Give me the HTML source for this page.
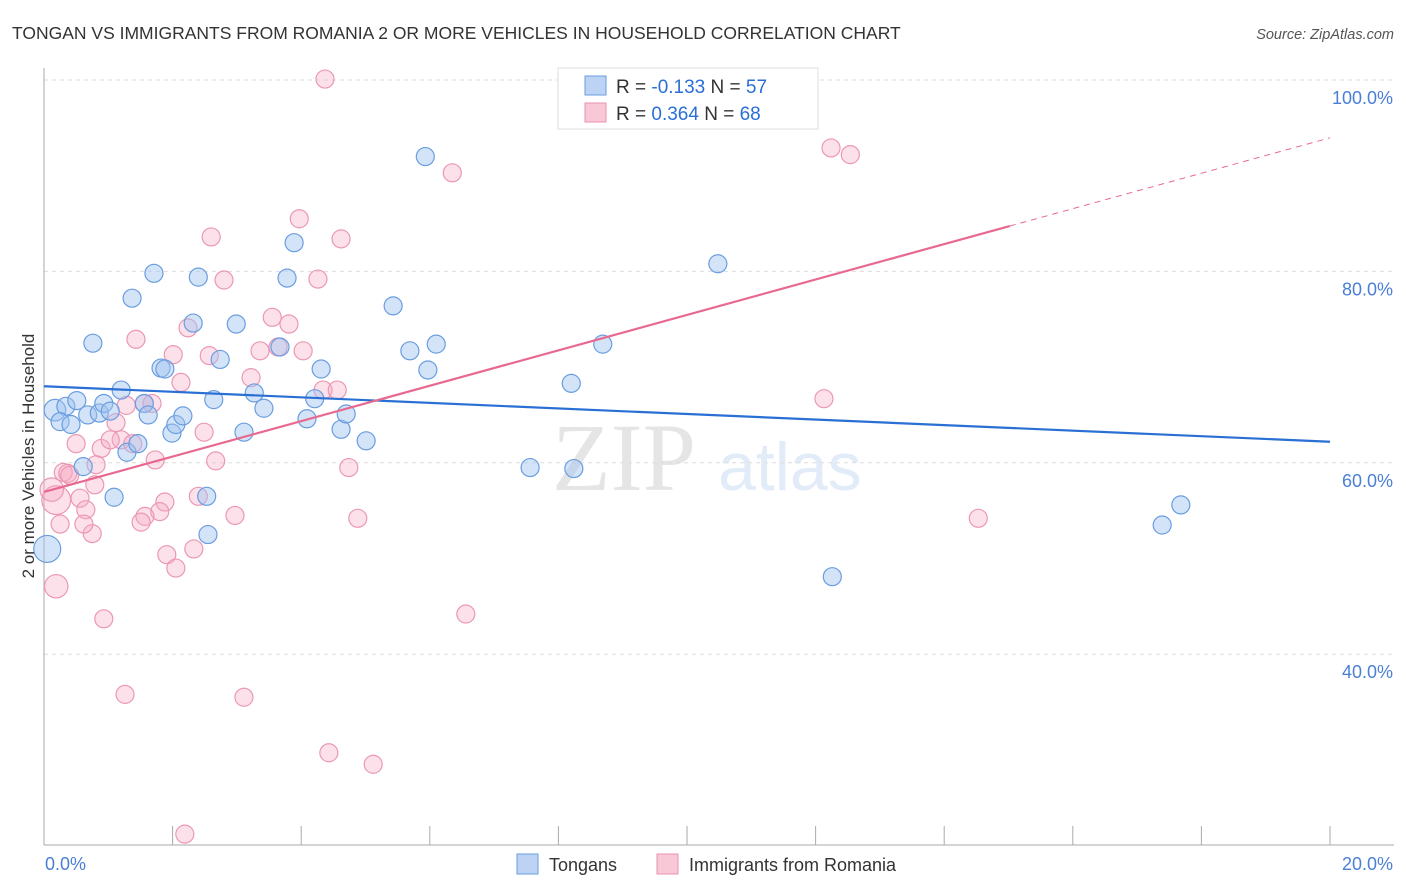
<!DOCTYPE html>
<html><head><meta charset="utf-8"><style>
body{margin:0;background:#fff;font-family:"Liberation Sans",sans-serif}
svg{display:block}
</style></head><body>
<svg id="c" width="1406" height="892" xmlns="http://www.w3.org/2000/svg">
<text x="12" y="39" font-size="17.5" fill="#333">TONGAN VS IMMIGRANTS FROM ROMANIA 2 OR MORE VEHICLES IN HOUSEHOLD CORRELATION CHART</text>
<text x="1394" y="39" font-size="14.5" fill="#555" font-style="italic" text-anchor="end">Source: ZipAtlas.com</text>
<g opacity="0.25">
<text x="552" y="490" font-size="96" font-family="Liberation Serif" fill="#999">ZIP</text>
<text x="718" y="490" font-size="68" fill="#8fb3e6">atlas</text>
</g>
<g id="grid"></g>
<g id="axes"></g>
<g id="pts"></g>
<g id="lines"></g>
<text transform="translate(34,456) rotate(-90)" font-size="17" fill="#333" text-anchor="middle">2 or more Vehicles in Household</text>
<g>
<rect x="558" y="68" width="260" height="61" fill="#fff" stroke="#ddd"/>
<rect x="585" y="76" width="21" height="19" fill="#bcd3f3" stroke="#6a9de0"/>
<rect x="585" y="103" width="21" height="19" fill="#f9c8d6" stroke="#e890ae"/>
<text x="616" y="93" font-size="19" fill="#333">R = <tspan fill="#2a6fd4">-0.133</tspan>   N = <tspan fill="#2a6fd4">57</tspan></text>
<text x="616" y="120" font-size="19" fill="#333">R =  <tspan fill="#2a6fd4">0.364</tspan>   N = <tspan fill="#2a6fd4">68</tspan></text>
</g>
<g>
<rect x="517" y="854" width="21" height="20" fill="#bcd3f3" stroke="#6a9de0"/>
<text x="549" y="871" font-size="18" fill="#333">Tongans</text>
<rect x="657" y="854" width="21" height="20" fill="#f9c8d6" stroke="#e890ae"/>
<text x="689" y="871" font-size="18" fill="#333">Immigrants from Romania</text>
</g>
</svg>
<script>
const yTicks=[40,60,80,100];
const xTickLabels=["0.0%","20.0%"];
const tonganX=[0.17,0.34,0.51,0.25,0.42,0.68,0.86,0.93,1.03,1.20,0.76,1.37,1.71,1.82,1.88,1.56,1.62,1.99,2.05,2.16,2.40,2.32,2.64,2.74,2.99,3.11,3.27,3.42,3.67,3.78,3.89,4.09,4.21,4.31,4.62,4.70,5.01,5.43,5.69,5.93,5.97,6.10,7.56,8.20,8.24,8.69,10.48,12.26,17.39,17.68,0.61,1.09,1.29,1.46,2.53,2.55,0.05];
const tonganY=[65.5,65.9,66.5,64.3,64.0,65.0,65.2,66.2,65.4,67.6,72.5,77.2,79.8,69.9,69.8,66.2,65.0,63.1,64.0,64.9,79.4,74.6,66.6,70.8,74.5,63.2,67.3,65.7,72.1,79.3,83.0,64.6,66.7,69.8,63.5,65.1,62.3,76.4,71.7,92.0,69.7,72.4,59.5,68.3,59.4,72.4,80.8,48.1,53.5,55.6,59.6,56.4,61.1,62.0,56.5,52.5,51.0];
const tonganW=[1.2,1,1,1,1,1,1,1,1,1,1,1,1,1,1,1,1,1,1,1,1,1,1,1,1,1,1,1,1,1,1,1,1,1,1,1,1,1,1,1,1,1,1,1,1,1,1,1,1,1,1,1,1,1,1,1,1.5];
const romX=[4.37,9.10,12.24,12.54,6.35,2.60,3.97,4.62,2.80,4.26,1.43,2.24,2.01,2.57,3.55,3.81,3.64,3.36,4.03,2.13,3.22,4.34,4.56,1.56,1.68,1.28,1.12,1.20,0.89,0.50,1.03,1.38,1.73,2.49,2.67,0.30,0.37,0.40,0.81,4.74,12.13,0.56,0.65,0.79,1.88,1.80,1.57,1.51,2.97,4.88,14.53,0.75,0.25,0.62,1.91,2.33,2.05,0.19,0.12,0.19,0.93,6.56,1.26,3.11,4.43,5.12,2.19,2.40];
const romY=[100.1,100.0,92.9,92.2,90.3,83.6,85.5,83.4,79.1,79.2,72.9,74.1,71.3,71.2,75.2,74.5,72.1,71.7,71.7,68.4,68.9,67.6,67.6,66.2,66.2,66.0,64.2,62.4,61.5,62.0,62.4,62.0,60.3,63.2,60.2,59.0,58.9,58.7,59.8,59.5,66.7,56.3,55.1,57.7,55.9,54.9,54.4,53.8,54.5,54.2,54.2,52.6,53.6,53.6,50.4,51.0,49.0,56.1,57.2,47.1,43.7,44.2,35.8,35.5,29.7,28.5,21.2,56.5];
const romW=[1,1,1,1,1,1,1,1,1,1,1,1,1,1,1,1,1,1,1,1,1,1,1,1,1,1,1,1,1,1,1,1,1,1,1,1,1,1,1,1,1,1,1,1,1,1,1,1,1,1,1,1,1,1,1,1,1,1.6,1.3,1.3,1,1,1,1,1,1,1,1];
const tonganTrend=[68.0,62.2];
const romTrend=[56.95,84.74,93.96]; // at x=0, 15.02, 20
const romTrendX=[0,15.02,20];
const NS="http://www.w3.org/2000/svg";
const X0=44,X1=1330,Y100=80,PPU=9.57;
const xs=v=>X0+v*(X1-X0)/20;
const ys=v=>Y100+(100-v)*PPU;
function mk(tag,attrs,parent){const e=document.createElementNS(NS,tag);for(const k in attrs)e.setAttribute(k,attrs[k]);parent.appendChild(e);return e;}
const grid=document.getElementById('grid'),axes=document.getElementById('axes'),pts=document.getElementById('pts'),lines=document.getElementById('lines');
yTicks.forEach(t=>{
 const l=mk('line',{x1:X0,x2:1394,y1:ys(t),y2:ys(t),stroke:'#ddd','stroke-dasharray':'4,4'},grid);
 
 
 const tx=mk('text',{x:1393,y:ys(t)+24,'font-size':18,fill:'#4a7fd6','text-anchor':'end'},axes);
 tx.textContent=t.toFixed(1)+'%';
 
 
});
const ya=mk('line',{x1:X0,x2:X0,y1:68,y2:845,stroke:'#aaa'},axes);


const xa=mk('line',{x1:X0,x2:1394,y1:845,y2:845,stroke:'#aaa'},axes);


for(let i=1;i<=10;i++){const t=mk('line',{x1:xs(i*2),x2:xs(i*2),y1:826,y2:845,stroke:'#aaa'},axes);
 
 }
const xl0=mk('text',{x:45,y:870,'font-size':18,fill:'#4a7fd6'},axes);xl0.textContent=xTickLabels[0];


const xl1=mk('text',{x:1393,y:870,'font-size':18,fill:'#4a7fd6','text-anchor':'end'},axes);xl1.textContent=xTickLabels[1];


function draw(X,Y,W,fill,stroke,name){for(let i=0;i<X.length;i++){const c=mk('circle',{cx:xs(X[i]),cy:ys(Y[i]),r:9*W[i],fill:fill,stroke:stroke,'stroke-width':1.2},pts);
 
 }}
draw(romX,romY,romW,'rgba(245,170,195,0.35)','#eb98b4','romania-point');
draw(tonganX,tonganY,tonganW,'rgba(160,195,240,0.45)','#6a9de0','tongan-point');
const bl=mk('line',{x1:xs(0),y1:ys(tonganTrend[0]),x2:xs(20),y2:ys(tonganTrend[1]),stroke:'#2a6fd4','stroke-width':2.2},lines);


const pl=mk('line',{x1:xs(romTrendX[0]),y1:ys(romTrend[0]),x2:xs(romTrendX[1]),y2:ys(romTrend[1]),stroke:'#e8698f','stroke-width':2.2},lines);


const pd=mk('line',{x1:xs(romTrendX[1]),y1:ys(romTrend[1]),x2:xs(romTrendX[2]),y2:ys(romTrend[2]),stroke:'#e8698f','stroke-width':1,'stroke-dasharray':'6,5'},lines);


</script>
</body></html>
